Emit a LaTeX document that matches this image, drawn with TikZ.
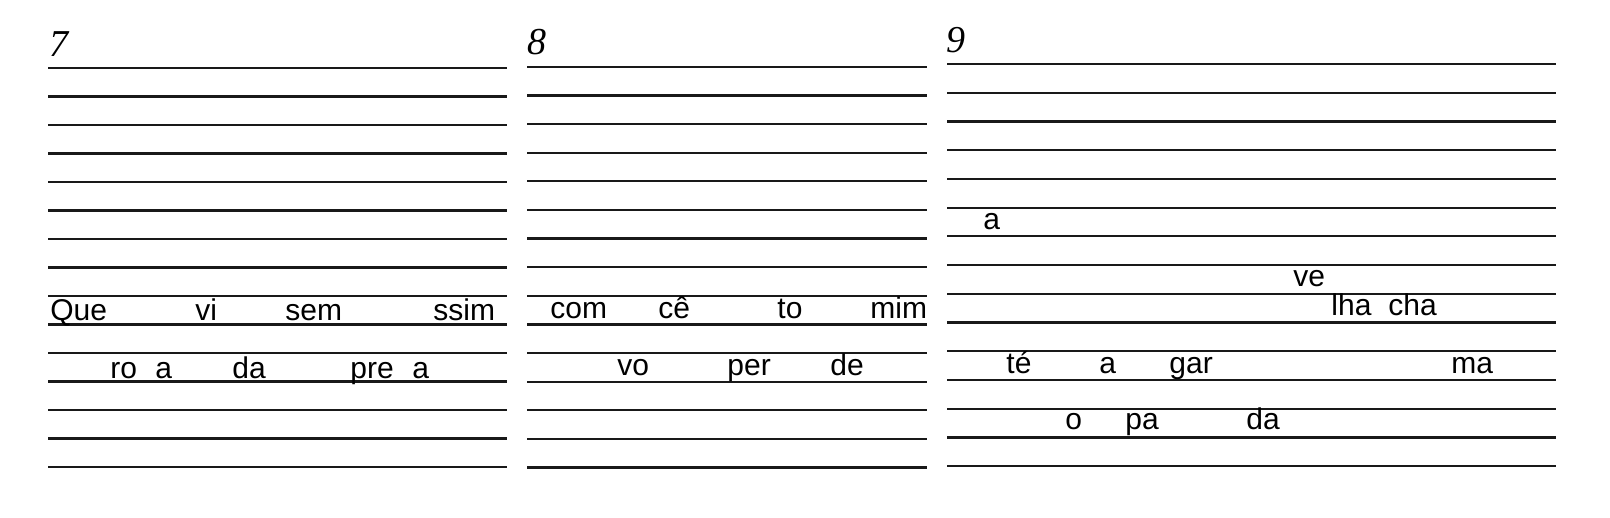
\documentclass[tikz,border=0pt]{standalone}
\usepackage{fontspec}
\setmainfont{Liberation Serif}
\newfontfamily\sylfont{Liberation Sans}
\usepackage{tikz}

\begin{document}
\begin{tikzpicture}[x=0.5pt, y=-0.5pt,
		staff/.style={line width=1.1pt, color=black!90},
		syl/.style={anchor=base west, inner sep=0pt, font=\sylfont\fontsize{15}{15}\selectfont},
		num/.style={anchor=base west, inner sep=0pt, font=\itshape\fontsize{19}{19}\selectfont}]
		%%%%% START %%%%%
		
		\useasboundingbox (0, 0) rectangle (1610, 518);
		
		% ruled lines of the three boxes
		\foreach \k in {0,...,14} {
			\draw[staff] (48, 68+28.5*\k) -- (507, 68+28.5*\k);
			\draw[staff] (527, 67+28.6*\k) -- (927, 67+28.6*\k);
			\draw[staff] (947, 64+28.73*\k) -- (1556, 64+28.73*\k);
		}
		
		\node[num] (n7) at (49, 57) {7};
		\node[num] (n8) at (527, 55) {8};
		\node[num] (n9) at (946, 53) {9};
		
		% box 7
		\node[syl] (que) at (50, 320) {Que};
		\node[syl] (vi) at (195, 320) {vi};
		\node[syl] (sem) at (285, 320) {sem};
		\node[syl] (ssim) at (433, 320) {ssim};
		\node[syl] (ro) at (110, 378) {ro};
		\node[syl] (aa) at (155, 378) {a};
		\node[syl] (da) at (232, 378) {da};
		\node[syl] (pre) at (350, 378) {pre};
		\node[syl] (ab) at (412, 378) {a};
		
		% box 8
		\node[syl] (com) at (550, 318) {com};
		\node[syl] (ce) at (658, 318) {cê};
		\node[syl] (to) at (777, 318) {to};
		\node[syl] (mim) at (870, 318) {mim};
		\node[syl] (vo) at (617, 375) {vo};
		\node[syl] (per) at (727, 375) {per};
		\node[syl] (de) at (830, 375) {de};
		
		% box 9
		\node[syl] (ac) at (983, 230) {a};
		\node[syl] (ve) at (1293, 286) {ve};
		\node[syl] (lha) at (1331, 315) {lha};
		\node[syl] (cha) at (1388, 315) {cha};
		\node[syl] (te) at (1006, 373) {té};
		\node[syl] (ad) at (1099, 373) {a};
		\node[syl] (gar) at (1169, 373) {gar};
		\node[syl] (ma) at (1451, 373) {ma};
		\node[syl] (o) at (1065, 429) {o};
		\node[syl] (pa) at (1125, 429) {pa};
		\node[syl] (db) at (1246, 429) {da};
		
		%%%%% END %%%%%
	\end{tikzpicture}
\end{document}
